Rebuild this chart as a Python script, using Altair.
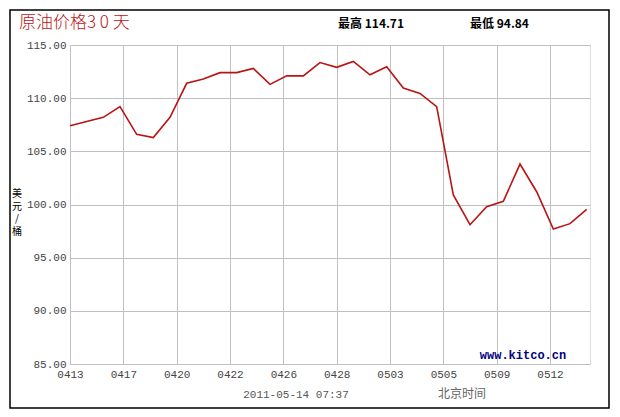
import altair as alt
import pandas as pd

# crude oil price, 30 days (index = sample number)
prices = [107.4, 107.8, 108.2, 109.2, 106.6, 106.3, 108.2, 111.4, 111.8, 112.4,
          112.4, 112.8, 111.3, 112.1, 112.1, 113.35, 112.9, 113.45, 112.2, 112.95,
          110.95, 110.45, 109.2, 100.9, 98.1, 99.8, 100.3, 103.8, 101.2, 97.7,
          98.2, 99.55]
tick_labels = ["0413", "0417", "0420", "0422", "0426", "0428", "0503", "0505", "0509", "0512"]
tick_step = 3.2          # samples between labelled grid lines
x_end = 31.2             # right edge of the plot in samples
y_ticks = [85, 90, 95, 100, 105, 110, 115]
y_title_chars = ["美", "元", "/", "桶"]

df = pd.DataFrame({"i": list(range(len(prices))), "price": prices})
tick_vals = [round(k * tick_step, 2) for k in range(len(tick_labels))]
label_js = "[" + ",".join('"%s"' % s for s in tick_labels) + "]"

W, H = 520, 319
one = pd.DataFrame({"a": [0]})

line = alt.Chart(df).mark_line(color="#b81414", strokeWidth=1.6).encode(
    x=alt.X("i:Q", scale=alt.Scale(domain=[0, x_end], nice=False, zero=False),
            axis=alt.Axis(values=tick_vals, title=None, grid=True,
                          labelExpr=label_js + "[round(datum.value/" + str(tick_step) + ")]",
                          labelFont="Liberation Mono", labelFontSize=11, labelColor="#444",
                          labelPadding=4, ticks=False, domain=False, gridColor="#c0c0c0",
                          labelAngle=0, labelFlush=False)),
    y=alt.Y("price:Q", scale=alt.Scale(domain=[85, 115], nice=False, zero=False),
            axis=alt.Axis(values=y_ticks, format=".2f", title=None, grid=True,
                          labelFont="Liberation Mono", labelFontSize=11, labelColor="#444",
                          labelPadding=4, ticks=False, domain=False, gridColor="#c0c0c0")),
)

border = alt.Chart(one).mark_rect(fillOpacity=0, stroke="black", strokeWidth=1.5).encode(
    x=alt.value(-60), x2=alt.value(539), y=alt.value(-35), y2=alt.value(363))

def txt(text, x, y, **kw):
    return alt.Chart(one).mark_text(text=text, **kw).encode(x=alt.value(x), y=alt.value(y))

title = txt("原油价格3 0 天", -51, -22, align="left", baseline="middle",
            font="Noto Sans CJK SC", fontSize=17, fontWeight=300, color="#b81414")
hi = txt("最高 114.71", 268, -21, align="left", baseline="middle",
         font="Noto Sans CJK SC", fontSize=12, fontWeight="bold", color="black")
lo = txt("最低 94.84", 400, -21, align="left", baseline="middle",
         font="Noto Sans CJK SC", fontSize=12, fontWeight="bold", color="black")
ytitle = [txt(c, -53, 149 + 12.5 * k, align="center", baseline="middle",
              font="Noto Sans CJK SC", fontSize=10, color="black")
          for k, c in enumerate(y_title_chars)]
stamp = txt("2011-05-14 07:37", 226, 350, align="center", baseline="middle",
            font="Liberation Mono", fontSize=11, color="#555")
bj = txt("北京时间", 392, 349, align="center", baseline="middle",
         font="Noto Sans CJK SC", fontSize=12, color="#666")
kitco = txt("www.kitco.cn", 453, 310, align="center", baseline="middle",
            font="Liberation Mono", fontSize=12, fontWeight="bold", color="#000080")

chart = alt.layer(line, border, title, hi, lo, *ytitle, stamp, bj, kitco).properties(
    width=W, height=H,
    autosize=alt.AutoSizeParams(type="none"),
    padding={"left": 62, "top": 37, "right": 22, "bottom": 46},
).configure_view(stroke="#c0c0c0", strokeWidth=1).configure(background="white")

chart.save("out.html", embed_options={"renderer": "svg", "actions": False})
